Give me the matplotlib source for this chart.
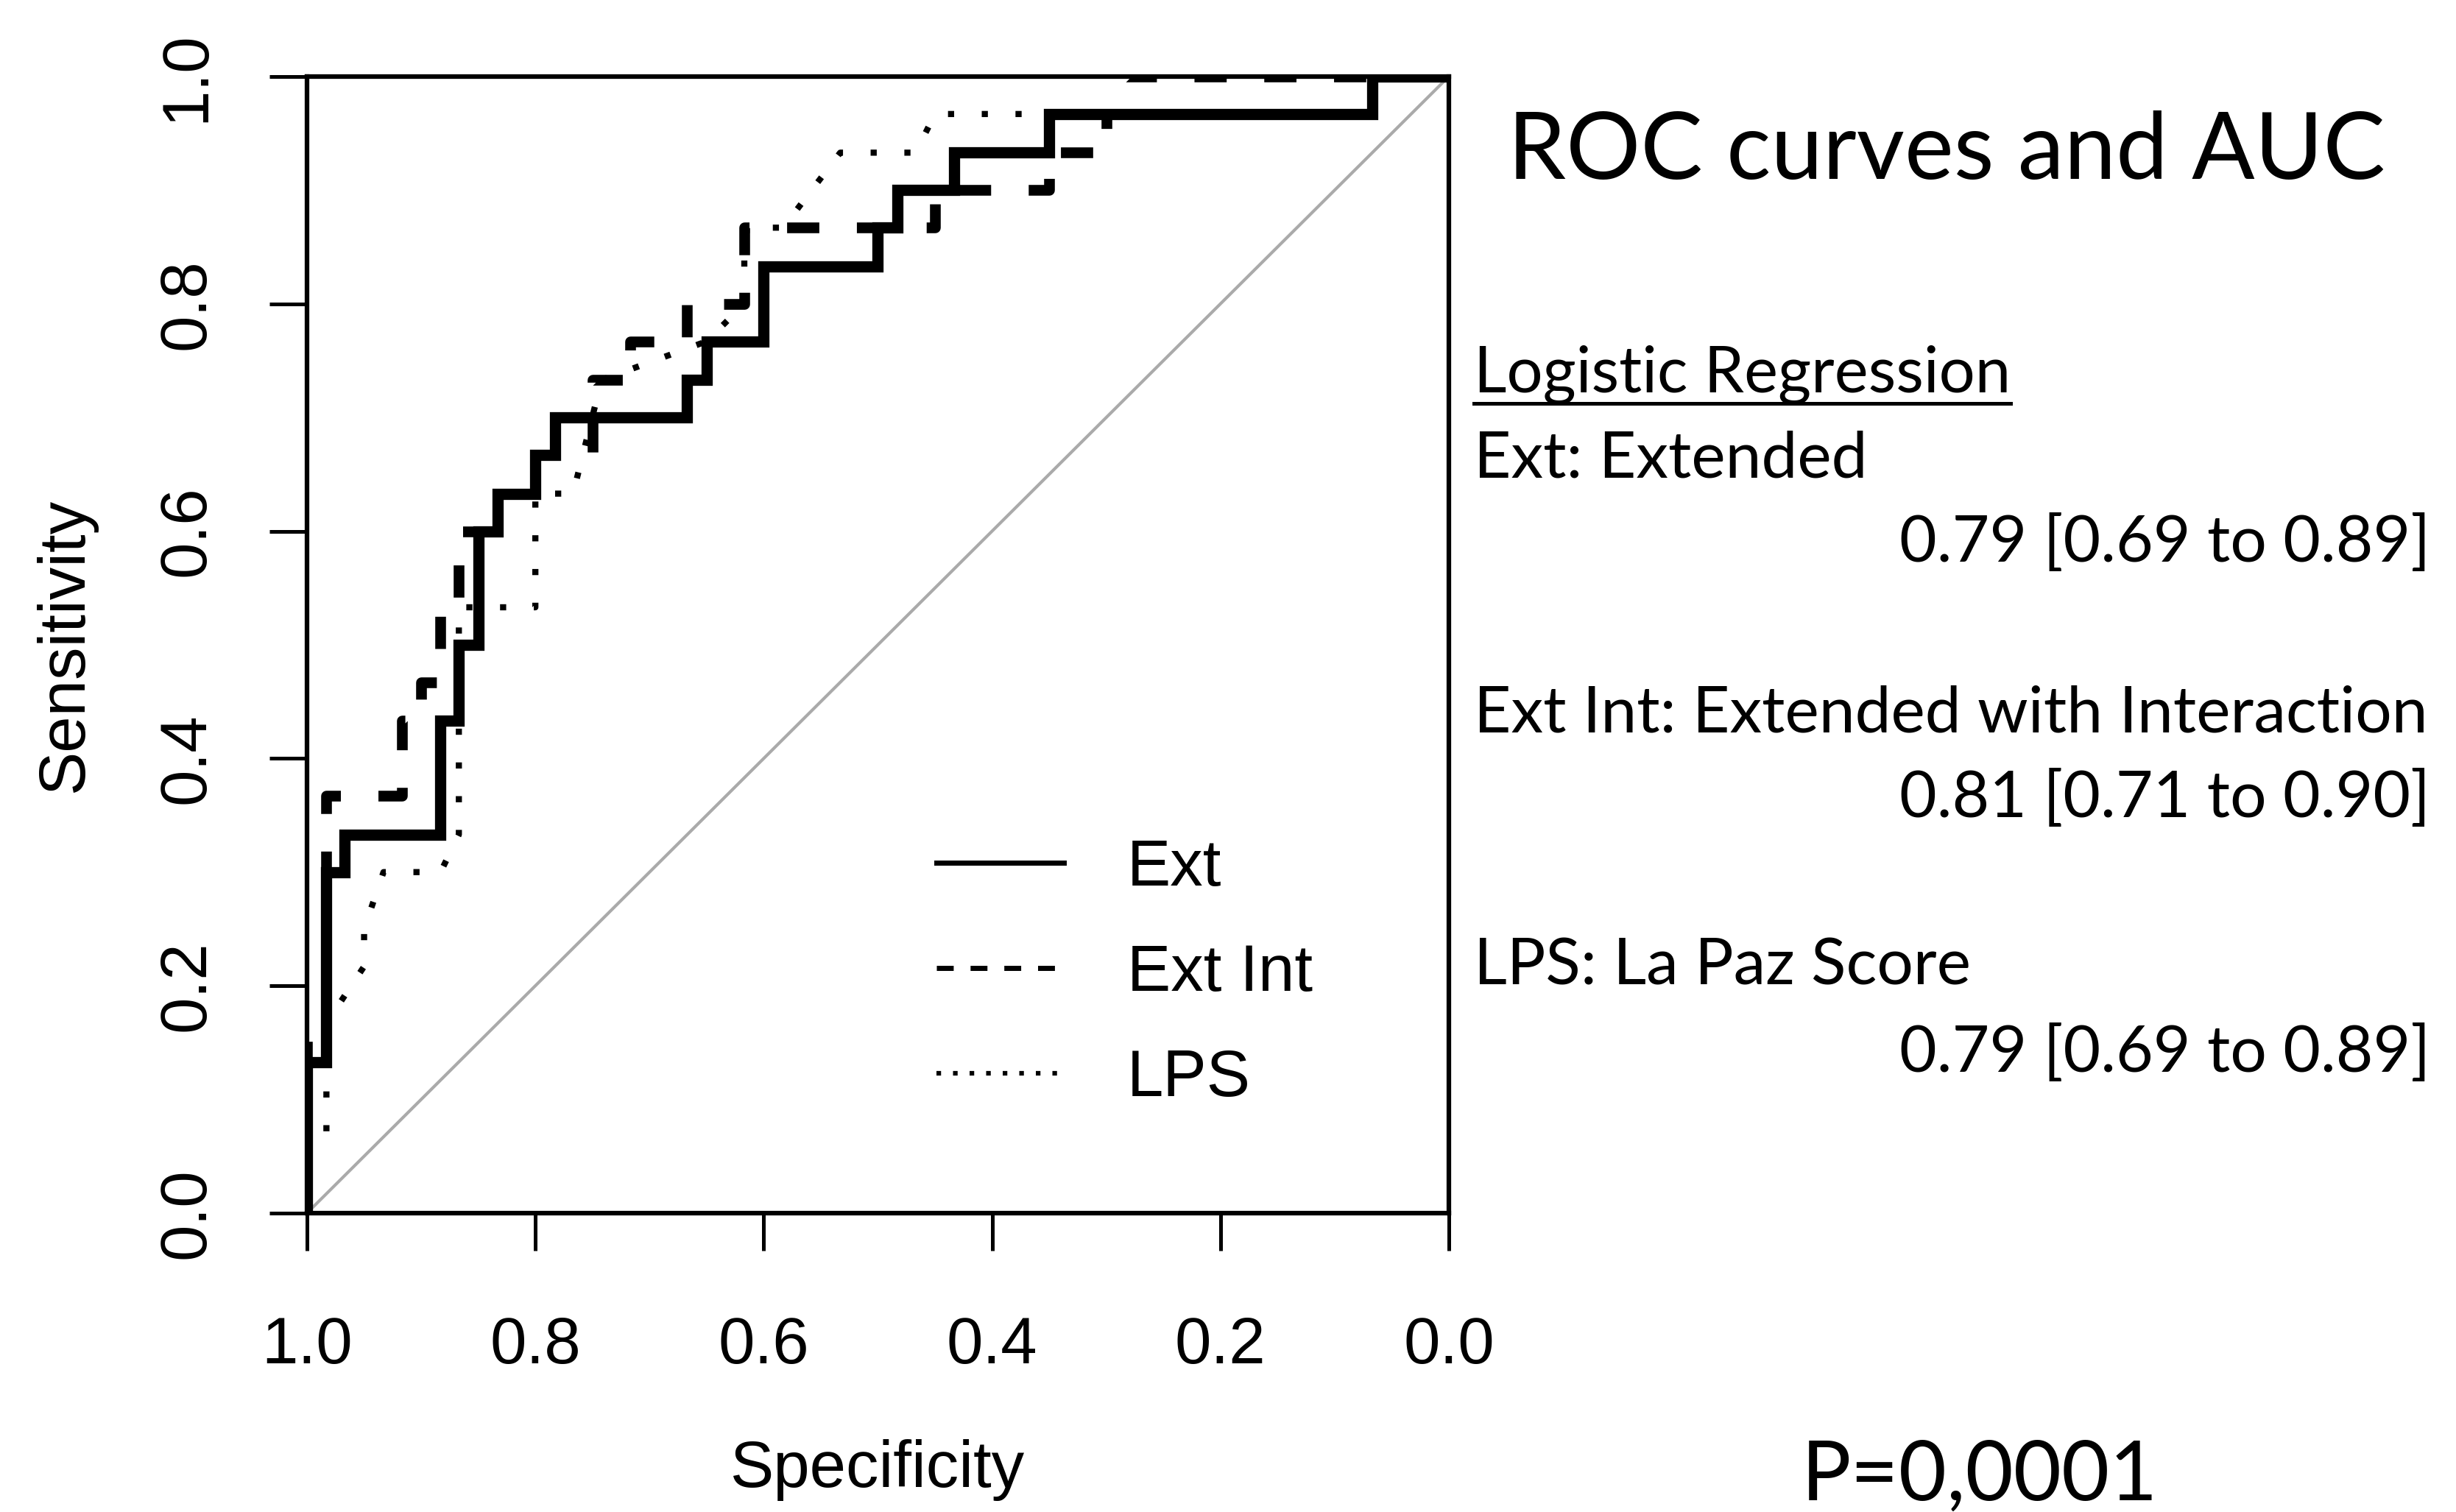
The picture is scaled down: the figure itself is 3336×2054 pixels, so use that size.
import matplotlib
matplotlib.use("Agg")
import matplotlib.pyplot as plt
from matplotlib.lines import Line2D

# ROC coordinates (specificity, sensitivity)
ext_spec = [1, 1, 0.983, 0.983, 0.967, 0.967, 0.883, 0.883, 0.867, 0.867, 0.85, 0.85,
            0.833, 0.833, 0.8, 0.8, 0.783, 0.783, 0.667, 0.667, 0.65, 0.65, 0.6, 0.6,
            0.5, 0.5, 0.483, 0.483, 0.433, 0.433, 0.35, 0.35, 0.067, 0.067, 0]
ext_sens = [0, 0.133, 0.133, 0.3, 0.3, 0.333, 0.333, 0.433, 0.433, 0.5, 0.5, 0.6,
            0.6, 0.633, 0.633, 0.667, 0.667, 0.7, 0.7, 0.733, 0.733, 0.767, 0.767, 0.833,
            0.833, 0.867, 0.867, 0.9, 0.9, 0.933, 0.933, 0.967, 0.967, 1, 1]

extint_spec = [1, 1, 0.983, 0.983, 0.917, 0.917, 0.9, 0.9, 0.883, 0.883, 0.867, 0.867,
               0.833, 0.833, 0.8, 0.8, 0.75, 0.75, 0.717, 0.717, 0.667, 0.667, 0.617, 0.617,
               0.45, 0.45, 0.35, 0.35, 0.3, 0.3, 0.283, 0.283, 0]
extint_sens = [0, 0.167, 0.167, 0.367, 0.367, 0.433, 0.433, 0.467, 0.467, 0.533, 0.533, 0.6,
               0.6, 0.633, 0.633, 0.667, 0.667, 0.733, 0.733, 0.767, 0.767, 0.8, 0.8, 0.867,
               0.867, 0.9, 0.9, 0.933, 0.933, 0.967, 0.967, 1, 1]

lps_spec = [1, 1, 0.983, 0.983, 0.95, 0.95, 0.933, 0.883, 0.867, 0.867, 0.8, 0.8,
            0.767, 0.742, 0.65, 0.617, 0.617, 0.583, 0.533, 0.467, 0.45, 0.067, 0.067, 0]
lps_sens = [0, 0.067, 0.067, 0.167, 0.217, 0.25, 0.3, 0.3, 0.333, 0.533, 0.533, 0.633,
            0.633, 0.733, 0.767, 0.8, 0.867, 0.867, 0.933, 0.933, 0.967, 0.967, 1, 1]

diag_spec = [1, 0]
diag_sens = [0, 1]

ticks = [0.0, 0.2, 0.4, 0.6, 0.8, 1.0]
legend_labels = ["Ext", "Ext Int", "LPS"]

auc_lines = [
    ("Ext: Extended", "0.79 [0.69 to 0.89]"),
    ("Ext Int: Extended with Interaction", "0.81 [0.71 to 0.90]"),
    ("LPS: La Paz Score", "0.79 [0.69 to 0.89]"),
]

rfont = "Liberation Sans"
tfont = "Lato"

fig = plt.figure(figsize=(33.36, 20.54), dpi=100)
ax = fig.add_axes([0.125, 0.1977, 0.4649, 0.7517])

ax.plot(diag_spec, diag_sens, color="#aaaaaa", lw=3, zorder=1)
ax.plot(lps_spec, lps_sens, color="black", lw=6, linestyle=(0, (1, 4.5)), zorder=2)
ax.plot(extint_spec, extint_sens, color="black", lw=10.5, linestyle=(0, (3.0, 3.5)),
        solid_joinstyle="miter", zorder=3)
ax.plot(ext_spec, ext_sens, color="black", lw=11, solid_joinstyle="miter",
        solid_capstyle="butt", zorder=4)

ax.set_xlim(1, 0)
ax.set_ylim(0, 1)
ax.set_xticks(ticks)
ax.set_yticks(ticks)
ax.set_xticklabels(["%.1f" % t for t in ticks], fontfamily=rfont)
ax.set_yticklabels(["%.1f" % t for t in ticks], fontfamily=rfont, rotation=90, va="center")
ax.tick_params(direction="out", length=37, width=3.6, labelsize=64)
ax.tick_params(axis="x", pad=63)
ax.tick_params(axis="y", pad=50)
for s in ax.spines.values():
    s.set_linewidth(4.5)

ax.set_xlabel("Specificity", fontsize=64, fontfamily=rfont, va="baseline")
ax.xaxis.set_label_coords(0.5, -0.241)
ax.set_ylabel("Sensitivity", fontsize=64, fontfamily=rfont, va="baseline")
ax.yaxis.set_label_coords(-0.1965, 0.5)

handles = [
    Line2D([], [], color="black", lw=5),
    Line2D([], [], color="black", lw=5, linestyle=(0, (3.3, 3.3))),
    Line2D([], [], color="black", lw=4.5, linestyle=(0, (1, 2.6))),
]
ax.legend(handles, legend_labels, loc="upper left", bbox_to_anchor=(0.551, 0.330),
          frameon=False, borderpad=0, borderaxespad=0, handlelength=1.95,
          handletextpad=0.97, labelspacing=0.66,
          prop={"family": rfont, "size": 64})

# right-hand annotations
fig.text(0.614, 0.8817, "ROC curves and AUC", fontsize=91, fontfamily=tfont, va="baseline")
hdr = fig.text(0.600, 0.7405, "Logistic Regression", fontsize=62.5, fontfamily=tfont,
               va="baseline")
name_y = [0.6845, 0.516, 0.3486]
val_y = [0.6285, 0.4596, 0.291]
for (name, val), ny, vy in zip(auc_lines, name_y, val_y):
    fig.text(0.600, ny, name, fontsize=63, fontfamily=tfont, va="baseline")
    fig.text(0.9895, vy, val, fontsize=63, fontfamily=tfont, va="baseline", ha="right")
fig.text(0.7335, 0.0078, "P=0,0001", fontsize=81, fontfamily=tfont, va="baseline")

# underline the header
r = fig.canvas.get_renderer()
bb = hdr.get_window_extent(renderer=r).transformed(fig.transFigure.inverted())
fig.add_artist(Line2D([bb.x0, bb.x1], [0.7332, 0.7332], color="black", lw=3.6,
                      transform=fig.transFigure))

fig.savefig("out.png", dpi=100)
